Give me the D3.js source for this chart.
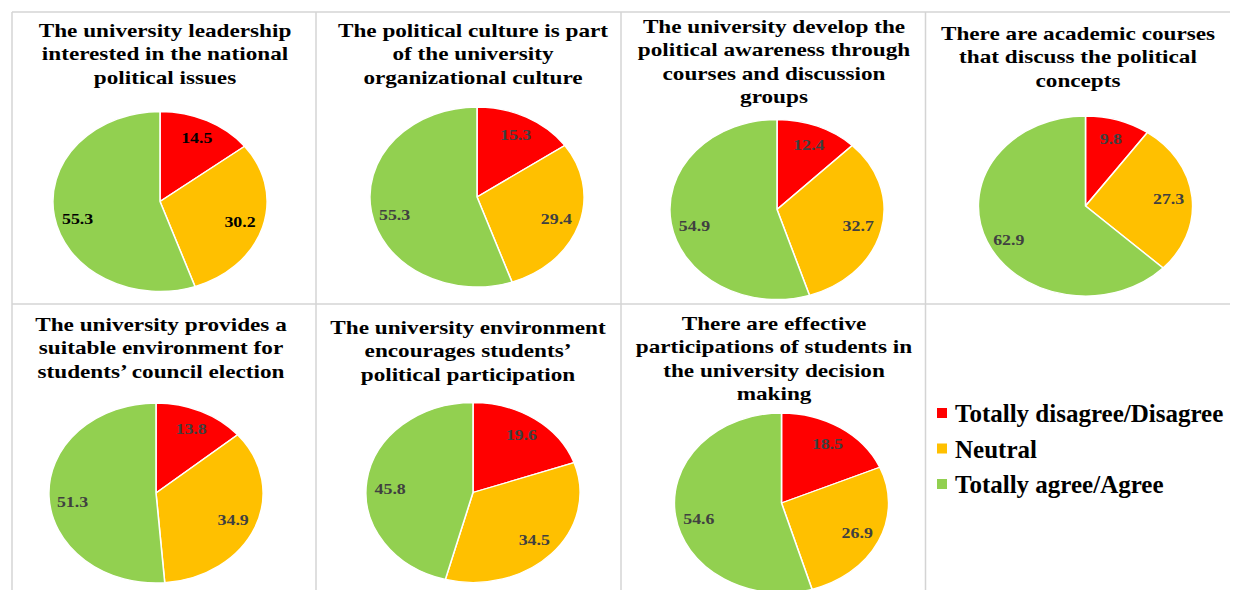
<!DOCTYPE html>
<html>

<head>
  <title>Political culture pies</title>
  <script src="https://cdn.jsdelivr.net/npm/d3@7"></script>
  <style>
    body { margin: 0; background: #fff; }
    text { font-family: "Liberation Serif", "Times New Roman", serif; font-weight: bold; }
  </style>
</head>

<body>
  <svg width="1237" height="590" id="mainsvg"></svg>
  <script>
    const svg = d3.select('#mainsvg');

    // data
    const categories = ['Totally disagree/Disagree', 'Neutral', 'Totally agree/Agree'];
    const titles = [
      ['The university leadership', 'interested in the national', 'political issues'],
      ['The political culture is part', 'of the university', 'organizational culture'],
      ['The university develop the', 'political awareness through', 'courses and discussion', 'groups'],
      ['There are academic courses', 'that discuss the political', 'concepts'],
      ['The university provides a', 'suitable environment for', 'students\u2019 council election'],
      ['The university environment', 'encourages students\u2019', 'political participation'],
      ['There are effective', 'participations of students in', 'the university decision', 'making']
    ];
    const disagree = [14.5, 15.3, 12.4, 9.8, 13.8, 19.6, 18.5];
    const neutral = [30.2, 29.4, 32.7, 27.3, 34.9, 34.5, 26.9];
    const agree = [55.3, 55.3, 54.9, 62.9, 51.3, 45.8, 54.6];

    // layout (pixel positions of each panel)
    const layout = [
      { tx: 165, ty: 37, cx: 160, cy: 201.5 },
      { tx: 473, ty: 37, cx: 477, cy: 197 },
      { tx: 774, ty: 33, cx: 777, cy: 209.5 },
      { tx: 1078, ty: 40, cx: 1085.5, cy: 206 },
      { tx: 161, ty: 331, cx: 156, cy: 493 },
      { tx: 468, ty: 334, cx: 473, cy: 492.5 },
      { tx: 774, ty: 330, cx: 781.5, cy: 503 }
    ];
    const sx = 1.19;      // the picture is stretched sideways
    const R = 90;
    const lineH = 23.4;

    const color = d3.scaleOrdinal()
      .domain(categories)
      .range(['#FF0000', '#FFC000', '#92D050']);

    // grid lines
    const gridColor = '#d4d4d4';
    [12, 316, 621, 925.5].forEach(x => {
      svg.append('line').attr('x1', x).attr('x2', x).attr('y1', 12).attr('y2', 590)
        .attr('stroke', gridColor).attr('stroke-width', 1.5);
    });
    [12, 304].forEach(y => {
      svg.append('line').attr('x1', 12).attr('x2', 1230).attr('y1', y).attr('y2', y)
        .attr('stroke', gridColor).attr('stroke-width', 1.5);
    });

    const pie = d3.pie().sort(null).value(d => d.value);
    const arc = d3.arc().innerRadius(0).outerRadius(R);
    const labelArc = d3.arc().innerRadius(R * 0.78).outerRadius(R * 0.78);

    titles.forEach((lines, i) => {
      const L = layout[i];
      const rows = categories.map((c, k) => ({ key: c, value: [disagree, neutral, agree][k][i] }));

      // title
      const tg = svg.append('g');
      tg.selectAll('text').data(lines).join('text')
        .attr('transform', (d, j) => `translate(${L.tx},${L.ty + j * lineH}) scale(${sx},1)`)
        .attr('text-anchor', 'middle')
        .attr('font-size', 19.5)
        .attr('fill', '#000')
        .text(d => d);

      // pie
      const g = svg.append('g').attr('transform', `translate(${L.cx},${L.cy}) scale(${sx},1)`);
      const arcs = pie(rows);
      g.selectAll('path').data(arcs).join('path')
        .attr('d', arc)
        .attr('fill', d => color(d.data.key))
        .attr('stroke', '#fff')
        .attr('stroke-width', 1.3);

      // big slices get their label a little lower, like the original
      g.selectAll('text').data(arcs).join('text')
        .attr('x', d => labelArc.centroid(d)[0])
        .attr('y', d => labelArc.centroid(d)[1] + (d.index === 2 ? 6 : 0))
        .attr('text-anchor', 'middle')
        .attr('dominant-baseline', 'central')
        .attr('font-size', 15)
        .attr('fill', i === 0 ? '#000' : '#404040')
        .text(d => d.data.value.toFixed(1));
    });

    // legend
    const lg = svg.append('g').attr('transform', 'translate(937, 422)');
    const item = lg.selectAll('g').data(categories).join('g')
      .attr('transform', (d, i) => `translate(0, ${i * 35.5})`);
    item.append('rect')
      .attr('x', 0).attr('y', -14).attr('width', 10).attr('height', 10)
      .attr('fill', d => color(d));
    item.append('text')
      .attr('x', 18).attr('y', 0)
      .attr('font-size', 25)
      .attr('fill', '#000')
      .text(d => d);
  </script>
</body>

</html>
